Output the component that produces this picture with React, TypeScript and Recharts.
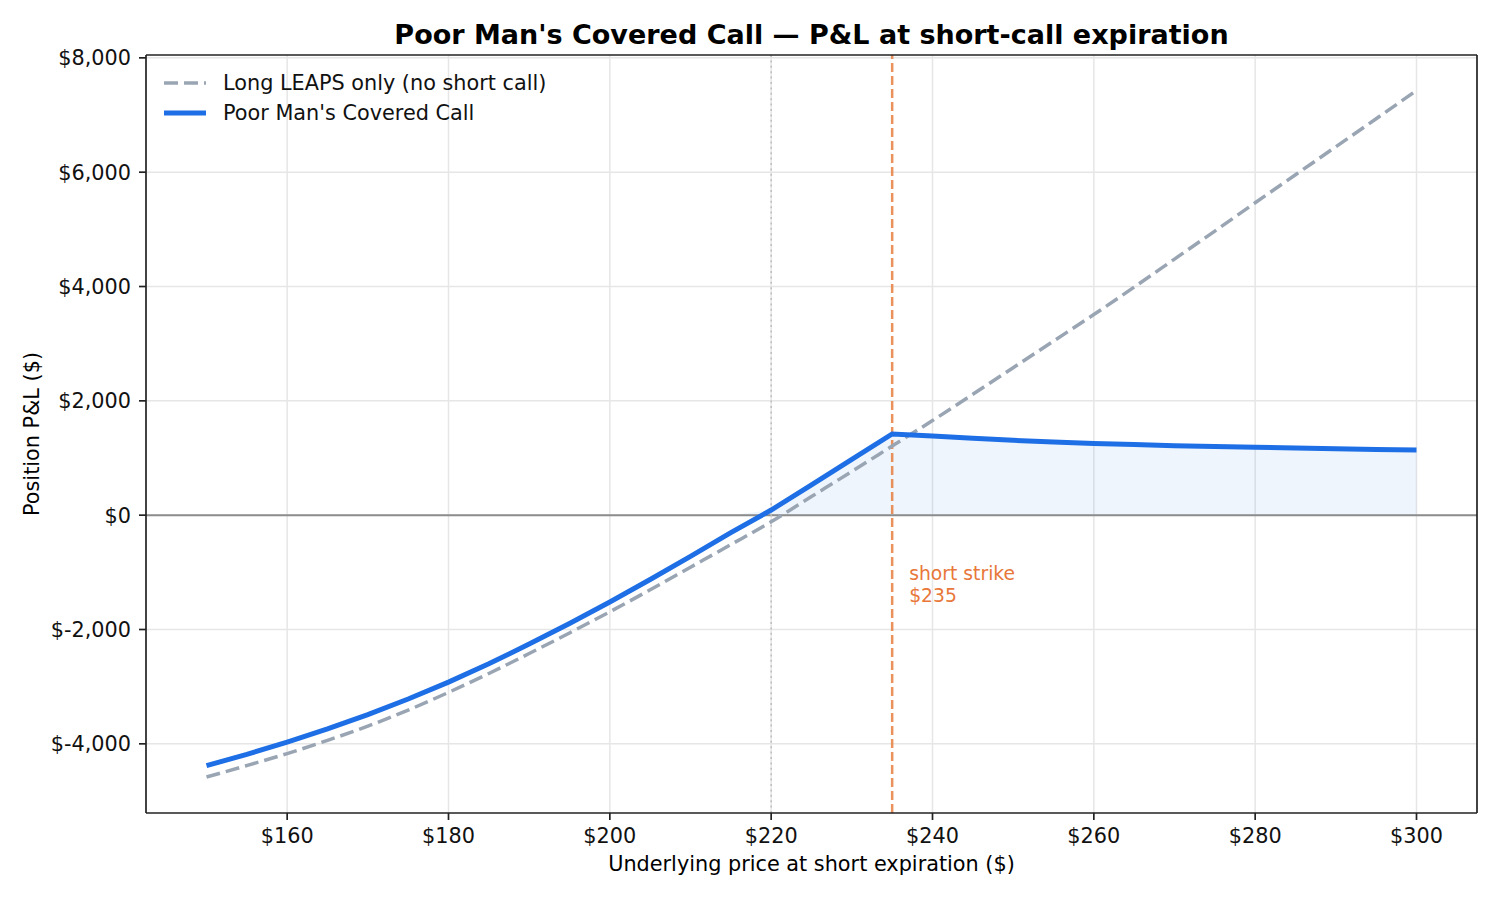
import { ComposedChart, Line, Area, XAxis, YAxis, CartesianGrid, ReferenceLine } from 'recharts';

// underlying price at short-call expiration
const prices = [150, 155, 160, 165, 170, 175, 180, 185, 190, 195, 200, 205, 210, 215, 220, 225, 230, 235, 240, 245, 250, 255, 260, 265, 270, 275, 280, 285, 290, 295, 300];
// long LEAPS only (no short call)
const leapsOnly = [-4580, -4380, -4170, -3940, -3690, -3410, -3100, -2770, -2420, -2060, -1690, -1305, -910, -515, -115, 325, 765, 1210, 1655, 2115, 2580, 3045, 3510, 3990, 4480, 4970, 5465, 5955, 6445, 6935, 7430];
// poor man's covered call
const pmcc = [-4380, -4185, -3970, -3740, -3490, -3215, -2920, -2600, -2255, -1895, -1520, -1125, -720, -305, 90, 530, 975, 1420, 1385, 1345, 1310, 1280, 1255, 1235, 1215, 1200, 1190, 1175, 1160, 1150, 1140];

const xTicks = [160, 180, 200, 220, 240, 260, 280, 300];
const yTicks = [-4000, -2000, 0, 2000, 4000, 6000, 8000];
const xDomain = [142.5, 307.5];
const yDomain = [-5210, 8050];

const spotPrice = 220;
const shortStrike = 235;

const BLUE = '#1e6fe6';
const GRAY = '#9aa5b4';
const ORANGE = '#e8773a';
const SPINE = '#222';
const FONT = '"DejaVu Sans", sans-serif';

const data = prices.map((p, i) => ({
  price: p,
  leaps: leapsOnly[i],
  pmcc: pmcc[i],
  gain: Math.max(pmcc[i], 0),
}));

const money = (v: number) => `$${v.toLocaleString('en-US')}`;

export default function App() {
  return (
    <div style={{ position: 'absolute', left: 0, top: 0, width: 1500, height: 900, background: '#fff', fontFamily: FONT }}>
      <ComposedChart width={1500} height={900} data={data} margin={{ top: 55, right: 23, bottom: 0, left: 0 }}>
        <CartesianGrid stroke="#e6e6e6" strokeWidth={1.5} horizontalValues={yTicks} verticalValues={xTicks} />
        <XAxis
          dataKey="price"
          type="number"
          domain={xDomain}
          ticks={xTicks}
          tickFormatter={money}
          height={87}
          tickSize={7}
          tickMargin={8}
          stroke={SPINE}
          strokeWidth={1.7}
          tick={{ fill: '#111', fontSize: 20.8, fontFamily: FONT }}
        />
        <YAxis
          type="number"
          domain={yDomain}
          ticks={yTicks}
          tickFormatter={money}
          width={146}
          tickSize={7}
          tickMargin={8}
          stroke={SPINE}
          strokeWidth={1.7}
          tick={{ fill: '#111', fontSize: 20.8, fontFamily: FONT }}
        />

        {/* shaded profit region of the PMCC */}
        <Area type="linear" dataKey="gain" baseValue={0} stroke="none" fill={BLUE} fillOpacity={0.07} isAnimationActive={false} legendType="none" />

        <ReferenceLine y={0} stroke="#8c8c8c" strokeWidth={2} />
        <ReferenceLine x={spotPrice} stroke="#bdbdbd" strokeWidth={1.5} strokeDasharray="2 3.4" />
        <ReferenceLine
          x={shortStrike}
          stroke="#e67e3f"
          strokeOpacity={0.85}
          strokeWidth={2.5}
          strokeDasharray="9 4"
          label={(props: any) => {
            const vb = props.viewBox || {};
            const x = (vb.x ?? 0) + 17;
            const y = (vb.y ?? 0) + 525;
            return (
              <text x={x} y={y} fill={ORANGE} fontSize={18.75} fontFamily={FONT}>
                <tspan x={x} y={y}>short strike</tspan>
                <tspan x={x} y={y + 22}>${shortStrike}</tspan>
              </text>
            );
          }}
        />

        <Line type="monotone" dataKey="leaps" stroke={GRAY} strokeWidth={3.5} strokeDasharray="14 6" dot={false} isAnimationActive={false} />
        <Line type="linear" dataKey="pmcc" stroke={BLUE} strokeWidth={5} dot={false} isAnimationActive={false} />

        {/* top and right spines */}
        <ReferenceLine y={yDomain[1]} stroke={SPINE} strokeWidth={1.7} />
        <ReferenceLine x={xDomain[1]} stroke={SPINE} strokeWidth={1.7} />
      </ComposedChart>

      {/* title */}
      <div style={{ position: 'absolute', left: 146, width: 1331, top: 21, textAlign: 'center', fontSize: 27, fontWeight: 'bold', lineHeight: '28px', color: '#000' }}>
        Poor Man's Covered Call — P&amp;L at short-call expiration
      </div>

      {/* axis labels */}
      <div style={{ position: 'absolute', left: 146, width: 1331, top: 853, textAlign: 'center', fontSize: 20.8, lineHeight: '22px', color: '#000' }}>
        Underlying price at short expiration ($)
      </div>
      <div style={{ position: 'absolute', left: 32, top: 434, transform: 'translate(-50%, -50%) rotate(-90deg)', whiteSpace: 'nowrap', fontSize: 20.8, lineHeight: '22px', color: '#000' }}>
        Position P&amp;L ($)
      </div>

      {/* legend */}
      <div style={{ position: 'absolute', left: 164, top: 68, fontSize: 20.8, color: '#111' }}>
        <div style={{ display: 'flex', alignItems: 'center', height: 30 }}>
          <svg width={42} height={10} style={{ marginRight: 17 }}>
            <line x1={0} y1={5} x2={42} y2={5} stroke={GRAY} strokeWidth={3.5} strokeDasharray="14 6" />
          </svg>
          <span>Long LEAPS only (no short call)</span>
        </div>
        <div style={{ display: 'flex', alignItems: 'center', height: 30 }}>
          <svg width={42} height={10} style={{ marginRight: 17 }}>
            <line x1={0} y1={5} x2={42} y2={5} stroke={BLUE} strokeWidth={5} />
          </svg>
          <span>Poor Man's Covered Call</span>
        </div>
      </div>
    </div>
  );
}
